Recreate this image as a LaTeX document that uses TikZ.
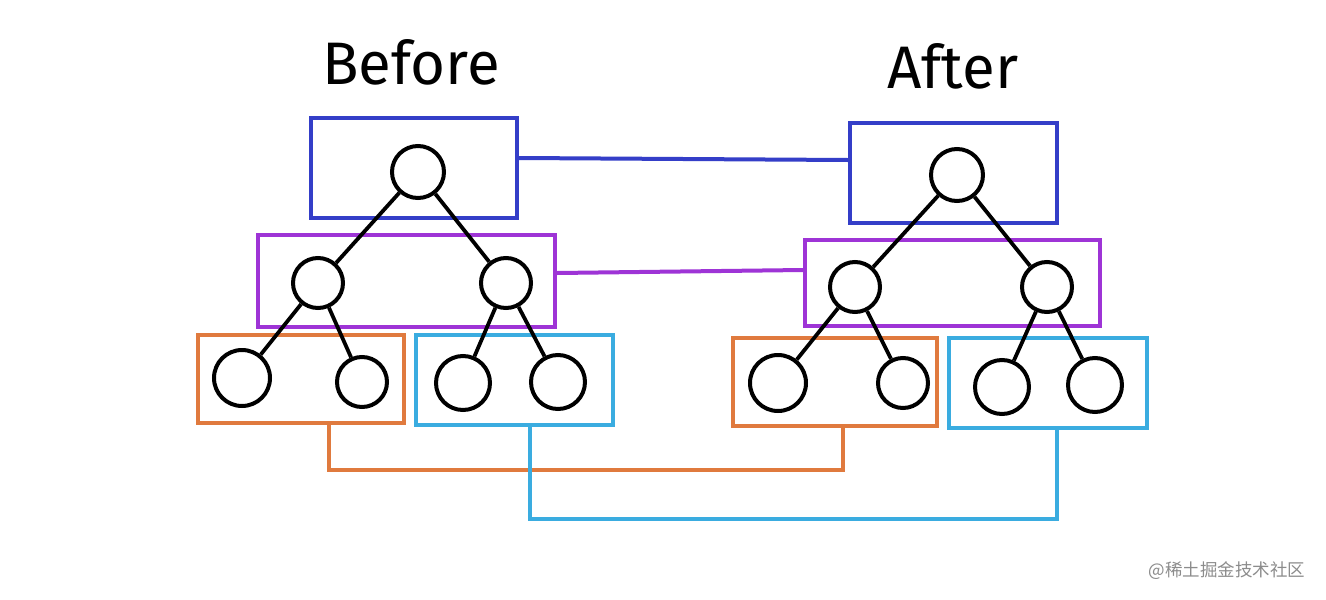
\documentclass[tikz,border=0pt]{standalone}
\usepackage{fontspec}
\setmainfont{Fira Sans}
\newfontfamily\cjk{Noto Sans CJK SC}
\definecolor{cblue}{RGB}{52,62,200}
\definecolor{cpurple}{RGB}{158,52,214}
\definecolor{corange}{RGB}{224,122,62}
\definecolor{ccyan}{RGB}{58,172,224}
\begin{document}
\begin{tikzpicture}[x=1pt,y=-1pt,
  box/.style={draw,line width=4pt,rectangle,inner sep=0pt},
  nd/.style={draw=black,line width=4pt,circle,inner sep=0pt,minimum size=#1},
  nd/.default=52pt,
  edge/.style={draw=black,line width=3.8pt},
  link/.style={line width=4pt},
  title/.style={font=\fontsize{60}{66}\selectfont}]
\useasboundingbox (0,0) rectangle (1326,600);
\fill[white] (0,0) rectangle (1326,600);
% titles
\node[title] (tb) at (411,62) {Before};
\node[title] (ta) at (953,66) {After};
% Before boxes
\node[box,draw=cblue,minimum width=206pt,minimum height=100pt] (bb) at (414,168) {};
\node[box,draw=cpurple,minimum width=297pt,minimum height=92pt] (bp) at (406.5,281) {};
\node[box,draw=corange,minimum width=206pt,minimum height=88pt] (bo) at (300.5,379) {};
\node[box,draw=ccyan,minimum width=197pt,minimum height=90pt] (bc) at (514.5,380) {};
% After boxes
\node[box,draw=cblue,minimum width=207pt,minimum height=100pt] (ab) at (953.5,173) {};
\node[box,draw=cpurple,minimum width=295pt,minimum height=86pt] (ap) at (952.5,283) {};
\node[box,draw=corange,minimum width=204pt,minimum height=88pt] (ao) at (835,382) {};
\node[box,draw=ccyan,minimum width=198pt,minimum height=90pt] (ac) at (1048,383) {};
% Before tree
\node[nd] (b1) at (418,172) {};
\node[nd=50pt] (b2) at (318,283) {};
\node[nd=50pt] (b3) at (506,283) {};
\node[nd=56pt] (b4) at (242,378) {};
\node[nd=50pt] (b5) at (362,382) {};
\node[nd=54pt] (b6) at (463,383) {};
\node[nd=54pt] (b7) at (558,382) {};
\draw[edge] (b1) -- (b2);
\draw[edge] (b1) -- (b3);
\draw[edge] (b2) -- (b4);
\draw[edge] (b2) -- (b5);
\draw[edge] (b3) -- (b6);
\draw[edge] (b3) -- (b7);
% After tree
\node[nd] (a1) at (957,175) {};
\node[nd=50pt] (a2) at (855,287) {};
\node[nd=50pt] (a3) at (1047,287) {};
\node[nd=56pt] (a4) at (778,383) {};
\node[nd=50pt] (a5) at (903,383) {};
\node[nd=54pt] (a6) at (1002,387) {};
\node[nd=54pt] (a7) at (1095,385) {};
\draw[edge] (a1) -- (a2);
\draw[edge] (a1) -- (a3);
\draw[edge] (a2) -- (a4);
\draw[edge] (a2) -- (a5);
\draw[edge] (a3) -- (a6);
\draw[edge] (a3) -- (a7);
% links
\draw[link,cblue] ([yshift=10pt]bb.east) -- ([yshift=13pt]ab.west);
\draw[link,cpurple] ([yshift=8pt]bp.east) -- ([yshift=13pt]ap.west);
\draw[link,corange] ([xshift=28pt]bo.south) -- ++(0,45) -| ([xshift=8pt]ao.south);
\draw[link,ccyan] ([xshift=15pt]bc.south) -- ++(0,92) -| ([xshift=9pt]ac.south);
% watermark
\node[text=black!45,font=\cjk\fontsize{17.5}{20}\selectfont,anchor=east] (wm) at (1309,571) {@稀土掘金技术社区};
\end{tikzpicture}
\end{document}
